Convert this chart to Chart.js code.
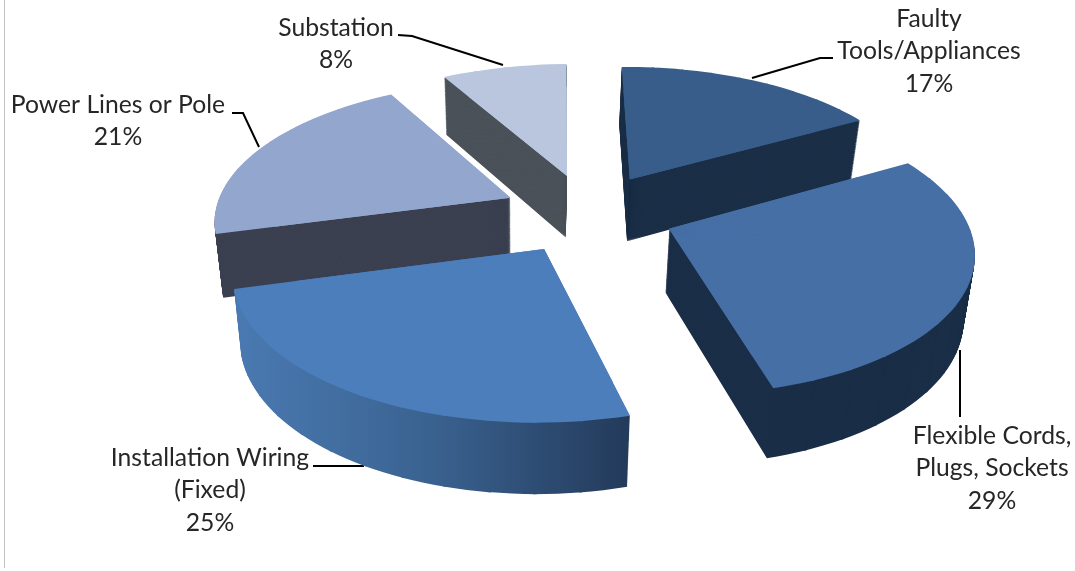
<!DOCTYPE html>
<html>
<head>
<meta charset="utf-8">
<title>Electrical fire sources</title>
<script src="https://cdn.jsdelivr.net/npm/chart.js@4/dist/chart.umd.min.js"></script>
<style>
  html, body { margin: 0; padding: 0; background: #fff; }
  #wrap { position: relative; width: 1075px; height: 571px; overflow: hidden; }
  #edge { position: absolute; left: 4px; top: 0; width: 1px; height: 568px; background: #c4c4c4; }
  canvas { position: absolute; left: 0; top: 0; }
</style>
</head>
<body>
<div id="wrap">
  <div id="edge"></div>
  <canvas id="pie" width="1075" height="571"></canvas>
</div>
<script>
const categories = [
  ['Faulty', 'Tools/Appliances'],
  ['Flexible Cords,', 'Plugs, Sockets'],
  ['Installation Wiring', '(Fixed)'],
  ['Power Lines or Pole'],
  ['Substation'],
];
const shares = [17, 29, 25, 21, 8];

const topColors = ['#385d8a', '#456fa5', '#4b7ebb', '#93a6cd', '#b9c6de'];
const wallColors = ['#1b2f47', '#1a2e47', ['#4a7ab2', '#3a6290', '#233a5a'], '#3b4050', '#4a5159'];

// paint order, back of the pie first
const drawOrder = [4, 3, 0, 1, 2];

// label anchors: centre x and first line's middle y, then the leader polyline
const labelX = [929, 992, 210, 118, 336];
const labelY = [19, 436, 458, 105, 28];
const leaders = [
  [[833, 58], [820, 58], [752, 78]],
  [[960, 350], [960, 417]],
  [[313, 466], [364, 466]],
  [[232, 113], [243, 113], [259, 147]],
  [[398, 35], [412, 36], [503, 65]],
];

// perspective camera for the tilted pie
const view = {
  x: 588.5, y: 213, radius: 296, squash: 137.6, depth: 7, explode: 0.29,
  height: 63, shrink: 0.025, shrinkX: 520,
};

function project(u, v, z) {
  const w = view.depth / (view.depth - v);
  const s = 1 - z * view.shrink;
  const x = view.x + view.radius * u * w;
  return [view.shrinkX + (x - view.shrinkX) * s, view.y + view.squash * v * w * s + view.height * z * w];
}

// affine map that lands a wedge's apex and both rim ends on their projected spots
function wedgeMatrix(arc, apex, a0, a1, z) {
  const d0 = project(apex[0], apex[1], z);
  const d1 = project(apex[0] + Math.cos(a0), apex[1] + Math.sin(a0), z);
  const d2 = project(apex[0] + Math.cos(a1), apex[1] + Math.sin(a1), z);
  const r = arc.outerRadius;
  const e1x = r * Math.cos(a0), e1y = r * Math.sin(a0);
  const e2x = r * Math.cos(a1), e2y = r * Math.sin(a1);
  const det = e1x * e2y - e2x * e1y;
  const f1x = d1[0] - d0[0], f1y = d1[1] - d0[1];
  const f2x = d2[0] - d0[0], f2y = d2[1] - d0[1];
  const a = (f1x * e2y - f2x * e1y) / det;
  const c = (f2x * e1x - f1x * e2x) / det;
  const b = (f1y * e2y - f2y * e1y) / det;
  const d = (f2y * e1x - f1y * e2x) / det;
  return [a, b, c, d, d0[0] - a * arc.x - c * arc.y, d0[1] - b * arc.x - d * arc.y];
}

// horizontal screen gradient expressed in a wedge's own coordinates
function screenGradient(ctx, m, x0, x1, stops) {
  const n = m[0] * m[0] + m[2] * m[2];
  const g = ctx.createLinearGradient(
    (x0 - m[4]) * m[0] / n, (x0 - m[4]) * m[2] / n,
    (x1 - m[4]) * m[0] / n, (x1 - m[4]) * m[2] / n
  );
  stops.forEach((c, i) => g.addColorStop(i / (stops.length - 1), c));
  return g;
}

function paintArc(ctx, arc, m, fill) {
  const saved = arc.options;
  arc.options = { ...saved, borderWidth: 0, backgroundColor: fill };
  ctx.save();
  ctx.transform(...m);
  arc.draw(ctx);
  ctx.restore();
  arc.options = saved;
}

// one level of a slice, cut into narrow wedges so the rim follows the perspective
function drawSliceLevel(ctx, arc, z, color, underlay) {
  const start = arc.startAngle, end = arc.endAngle, circ = arc.circumference, radius = arc.outerRadius;
  const mid = (start + end) / 2;
  const apex = [Math.cos(mid) * view.explode, Math.sin(mid) * view.explode];

  if (underlay) {
    // solid base under the wedges so their joins don't show near the apex
    const whole = wedgeMatrix(arc, apex, start, end, z);
    arc.outerRadius = radius * 0.8;
    paintArc(ctx, arc, whole, color);
    arc.outerRadius = radius;
  }

  const n = Math.ceil((end - start) / (Math.PI / 24));
  const stepAngle = (end - start) / n;
  let x0 = 0, x1 = 0;
  if (Array.isArray(color)) {
    const p = project(apex[0] + Math.cos(start), apex[1] + Math.sin(start), 0)[0];
    const q = project(apex[0] + Math.cos(end), apex[1] + Math.sin(end), 0)[0];
    x0 = Math.min(p, q);
    x1 = Math.max(p, q);
  }
  for (let k = 0; k < n; k++) {
    const a0 = start + k * stepAngle, a1 = a0 + stepAngle;
    const m = wedgeMatrix(arc, apex, a0, a1, z);
    const lap = k < n - 1 ? 0.01 : 0;
    arc.startAngle = a0;
    arc.endAngle = a1 + lap;
    arc.circumference = stepAngle + lap;
    paintArc(ctx, arc, m, Array.isArray(color) ? screenGradient(ctx, m, x0, x1, color) : color);
  }
  arc.startAngle = start;
  arc.endAngle = end;
  arc.circumference = circ;
}

const pie3d = {
  id: 'pie3d',
  beforeDatasetsDraw(chart) {
    const ctx = chart.ctx;
    const arcs = chart.getDatasetMeta(0).data;

    ctx.save();
    ctx.strokeStyle = '#000';
    ctx.lineWidth = 2;
    leaders.forEach((pts) => {
      ctx.beginPath();
      pts.forEach((p, i) => (i ? ctx.lineTo(p[0], p[1]) : ctx.moveTo(p[0], p[1])));
      ctx.stroke();
    });
    ctx.restore();

    drawOrder.forEach((i) => {
      // stack the slice upward to build its side walls, then lay the top on it
      for (let step = 70; step > 0; step--) {
        drawSliceLevel(ctx, arcs[i], step / 70, wallColors[i], false);
      }
      drawSliceLevel(ctx, arcs[i], 0, topColors[i], true);
    });
    return false;
  },
  afterDraw(chart) {
    const ctx = chart.ctx;
    ctx.save();
    ctx.font = '24.7px Lato, "Open Sans", sans-serif';
    ctx.fillStyle = '#262626';
    ctx.textAlign = 'center';
    ctx.textBaseline = 'middle';
    categories.forEach((lines, i) => {
      const rows = [...lines, shares[i] + '%'];
      rows.forEach((t, j) => ctx.fillText(t, labelX[i], labelY[i] + j * 32.5));
    });
    ctx.restore();
  },
};

new Chart(document.getElementById('pie'), {
  type: 'pie',
  data: {
    labels: categories.map((c) => c.join(' ')),
    datasets: [{ data: shares, backgroundColor: topColors, borderWidth: 0 }],
  },
  options: {
    responsive: false,
    animation: false,
    events: [],
    rotation: -0.7,
    layout: { padding: 0 },
    plugins: { legend: { display: false }, tooltip: { enabled: false } },
  },
  plugins: [pie3d],
});
</script>
</body>
</html>
